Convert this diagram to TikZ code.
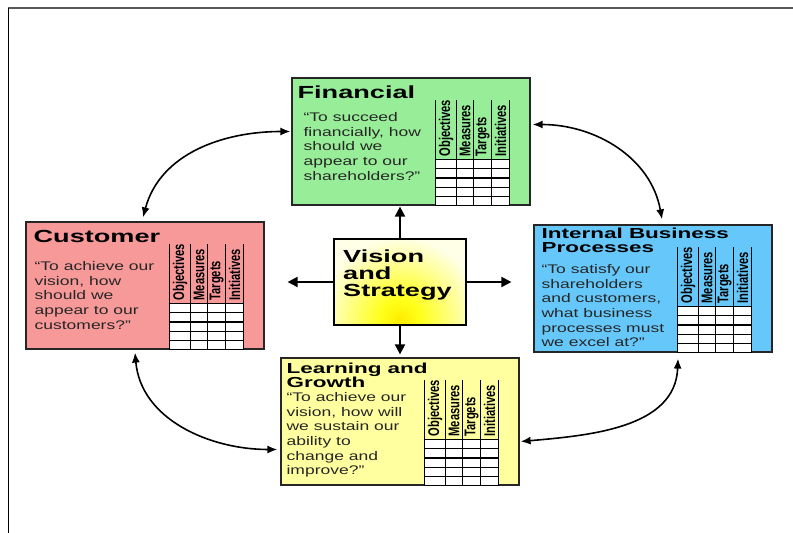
\documentclass[tikz,border=0pt]{standalone}
\usepackage{fontspec}
\setmainfont{Liberation Sans}
\newfontfamily\bodyfont[FakeStretch=1.4]{Liberation Sans}
\newfontfamily\titlefont[FakeStretch=1.55]{Liberation Sans}
\newfontfamily\headfont[FakeStretch=0.72]{Liberation Sans}
\usetikzlibrary{arrows.meta}

\definecolor{fingreen}{RGB}{152,238,152}
\definecolor{cuspink}{RGB}{247,153,153}
\definecolor{ibpblue}{RGB}{102,200,250}
\definecolor{lngyellow}{RGB}{255,255,160}
\definecolor{vispale}{RGB}{255,255,232}

\pgfdeclareradialshading{visglow}{\pgfpoint{0bp}{0bp}}{color(0bp)=(yellow!85!orange); color(4bp)=(yellow!90); color(17bp)=(vispale); color(50bp)=(vispale)}

\tikzstyle{panel} = [draw=black!85, line width=1.2pt, minimum width=238pt, minimum height=127pt, inner sep=0pt]
\tikzstyle{heading} = [anchor=north west, inner sep=0pt, align=left]
\tikzstyle{body} = [anchor=north west, inner sep=0pt, align=left, text=black!85, font=\bodyfont\fontsize{12.5}{14.6}\selectfont]
\tikzstyle{arrow} = [-{Triangle[length=10pt,width=10pt]}, line width=2pt]
\tikzstyle{link} = [{Latex[length=10pt,width=8pt]}-{Latex[length=10pt,width=8pt]}, line width=1.6pt]

% objectives / measures / targets / initiatives grid in a panel
\newcommand{\measuregrid}[1]{%
  \begin{scope}[shift={(#1.south east)}, xshift=-95pt]
    \fill[white] (0,0) rectangle (74,46);
    \foreach \r in {0,9.2,18.4,27.6,36.8,46} \draw[line width=1.1pt] (0,\r) -- (74,\r);
    \foreach \c in {0,21,38,56,74} \draw[line width=1.4pt] (\c,0) -- (\c,106);
    \foreach \c/\lbl in {10.5/Objectives,29.5/Measures,47/Targets,65/Initiatives}
      \node[rotate=90, anchor=west, inner sep=0pt, font=\headfont\bfseries\fontsize{15.5}{15.5}\selectfont] at (\c,49) {\lbl};
  \end{scope}}

\begin{document}
\begin{tikzpicture}[x=1pt, y=1pt]
  \useasboundingbox (0,0) rectangle (793,533);
  \fill[white] (0,0) rectangle (793,533);
  \draw[black!65, line width=1.5pt] (8,525) -- (793,525);
  \draw[black, line width=1pt] (8,525) -- (8,0);

  \node[panel, fill=fingreen](fin) at (411,391.5) {};
  \node[heading, font=\titlefont\bfseries\fontsize{17.5}{14}\selectfont](fintitle) at ([xshift=6pt,yshift=-8pt]fin.north west) {Financial};
  \node[body](fintext) at ([xshift=12pt,yshift=-35pt]fin.north west) {“To succeed\\financially, how\\should we\\appear to our\\shareholders?”};
  \measuregrid{fin}

  \node[panel, fill=cuspink](cus) at (145,247.5) {};
  \node[heading, font=\titlefont\bfseries\fontsize{17.5}{14}\selectfont](custitle) at ([xshift=8pt,yshift=-9pt]cus.north west) {Customer};
  \node[body](custext) at ([xshift=9pt,yshift=-40pt]cus.north west) {“To achieve our\\vision, how\\should we\\appear to our\\customers?”};
  \measuregrid{cus}

  \node[panel, fill=ibpblue](ibp) at (653,244.5) {};
  \node[heading, font=\titlefont\bfseries\fontsize{14.5}{14}\selectfont](ibptitle) at ([xshift=8pt,yshift=-3pt]ibp.north west) {Internal Business\\Processes};
  \node[body](ibptext) at ([xshift=8pt,yshift=-40pt]ibp.north west) {“To satisfy our\\shareholders\\and customers,\\what business\\processes must\\we excel at?”};
  \measuregrid{ibp}

  \node[panel, fill=lngyellow](lng) at (400,111.5) {};
  \node[heading, font=\titlefont\bfseries\fontsize{14.5}{14}\selectfont](lngtitle) at ([xshift=6pt,yshift=-5pt]lng.north west) {Learning and\\Growth};
  \node[body](lngtext) at ([xshift=6pt,yshift=-35pt]lng.north west) {“To achieve our\\vision, how will\\we sustain our\\ability to\\change and\\improve?”};
  \measuregrid{lng}

  \node[draw, line width=2pt, fill=vispale, minimum width=132pt, minimum height=86pt,
        path picture={\shade[shading=visglow] ([yshift=6pt]path picture bounding box.south) circle (120pt);}](vis) at (400,251) {};
  \node[heading, font=\titlefont\bfseries\fontsize{17.5}{17}\selectfont](vistitle) at ([xshift=10pt,yshift=-12pt]vis.north west) {Vision\\and\\Strategy};

  \draw[arrow, shorten >=1pt] (vis.north) -- (vis.north |- fin.south);
  \draw[arrow, shorten >=23pt] (vis.west) -- (vis.west -| cus.east);
  \draw[arrow, shorten >=22pt] (vis.east) -- (vis.east -| ibp.west);
  \draw[arrow, shorten >=3pt] (vis.south) -- (vis.south |- lng.north);

  \draw[link] ([xshift=-1pt,yshift=10pt]fin.west) to[out=180,in=75] ([xshift=-2pt,yshift=4pt]cus.north);
  \draw[link] ([xshift=2pt,yshift=17pt]fin.east) to[out=0,in=100] ([xshift=9pt,yshift=5pt]ibp.north);
  \draw[link] ([xshift=25pt,yshift=-6pt]ibp.south) to[out=-92,in=5] ([xshift=1pt,yshift=-20pt]lng.east);
  \draw[link] ([xshift=-10pt,yshift=-3pt]cus.south) to[out=-85,in=180] ([xshift=-3pt,yshift=-28pt]lng.west);

\end{tikzpicture}
\end{document}
